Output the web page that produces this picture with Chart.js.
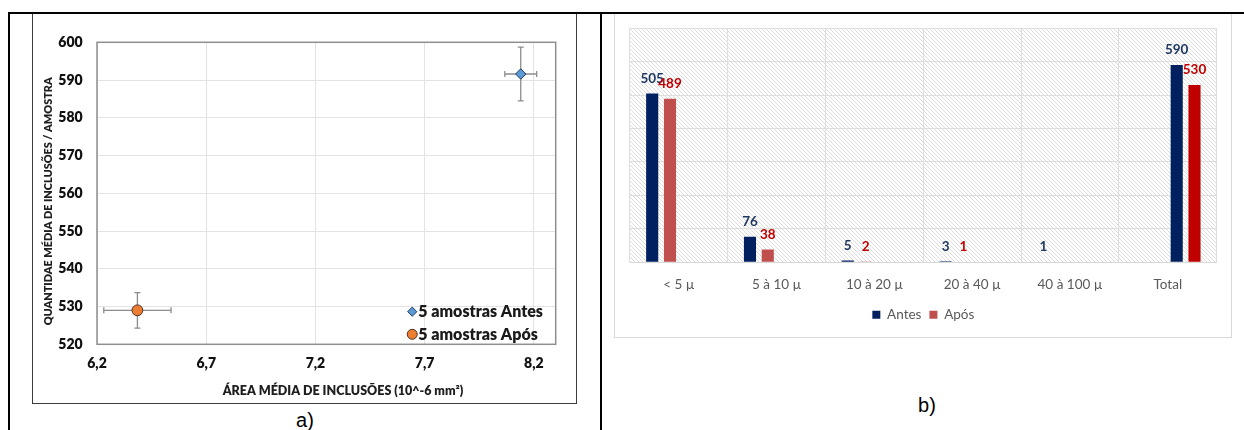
<!DOCTYPE html>
<html>
<head>
<meta charset="utf-8">
<script src="https://cdn.jsdelivr.net/npm/chart.js@4.4.1/dist/chart.umd.min.js"></script>
<style>
  html, body { margin: 0; padding: 0; background: #fff; }
  body { width: 1244px; height: 430px; position: relative; overflow: hidden; font-family: 'Liberation Sans', Arial, sans-serif; }
  .panel { position: absolute; box-sizing: border-box; background: #fff; }
  .panel canvas { display: block; }
  .rule { position: absolute; background: #000; }
  .tag { position: absolute; font-size: 20px; line-height: 1; color: #000; transform: translateX(-50%); }
</style>
</head>
<body>
<div class="panel" style="left:32px;top:13px;width:545px;height:391px;border:1px solid #3c3c3c">
  <canvas id="scatterChart" width="543" height="389" style="width:543px;height:389px"></canvas>
</div>
<div class="panel" style="left:614px;top:13px;width:618px;height:325px;border:1px solid #d9d9d9">
  <canvas id="barChart" width="616" height="323" style="width:616px;height:323px"></canvas>
</div>
<div class="rule" style="left:8px;top:12px;width:1236px;height:2px"></div>
<div class="rule" style="left:8px;top:12px;width:2px;height:418px"></div>
<div class="rule" style="left:600px;top:12px;width:2px;height:418px"></div>
<div class="tag" style="left:305px;top:410px">a)</div>
<div class="tag" style="left:927px;top:395px">b)</div>

<script>
// ---- a) mean inclusion area vs. mean inclusion count per sample ----
const sampleSets = ['5 amostras Antes', '5 amostras Após'];
const meanArea = [8.14, 6.385];        // 10^-6 mm²
const meanCount = [591.6, 529.0];      // inclusions per sample
const areaErr = [0.073, 0.154];
const countErr = [7.1, 4.7];
const areaTicks = [6.2, 6.7, 7.2, 7.7, 8.2];
const countTicks = [520, 530, 540, 550, 560, 570, 580, 590, 600];
const areaTitle = 'ÁREA MÉDIA DE INCLUSÕES (10^-6 mm²)';
const countTitle = 'QUANTIDAE MÉDIA DE INCLUSÕES / AMOSTRA';

// ---- b) inclusion count by size class ----
const sizeClasses = ['< 5 µ', '5 à 10 µ', '10 à 20 µ', '20 à 40 µ', '40 à 100 µ', 'Total'];
const antes = [505, 76, 5, 3, 1, null];
const apos = [489, 38, 2, 1, null, null];
const antesTotal = [null, null, null, null, null, 590];
const aposTotal = [null, null, null, null, null, 530];

Chart.defaults.font.family = "Lato, 'Open Sans', sans-serif";
Chart.defaults.animation = false;

const heavy = '800';
const commaNum = v => Number(v).toFixed(1).replace('.', ',');

// error bars under each scatter marker
const errorBars = {
  id: 'errorBars',
  beforeDatasetsDraw(chart) {
    const {ctx, scales: {x, y}} = chart;
    ctx.save();
    ctx.strokeStyle = '#8c8c8c';
    ctx.lineWidth = 1.3;
    chart.data.datasets.forEach((ds) => {
      const p = ds.data[0];
      const x0 = x.getPixelForValue(p.x - ds.xErr), x1 = x.getPixelForValue(p.x + ds.xErr);
      const y0 = y.getPixelForValue(p.y - ds.yErr), y1 = y.getPixelForValue(p.y + ds.yErr);
      const px = x.getPixelForValue(p.x), py = y.getPixelForValue(p.y);
      const cap = 3;
      ctx.beginPath();
      ctx.moveTo(x0, py); ctx.lineTo(x1, py);
      ctx.moveTo(x0, py - cap); ctx.lineTo(x0, py + cap);
      ctx.moveTo(x1, py - cap); ctx.lineTo(x1, py + cap);
      ctx.moveTo(px, y0); ctx.lineTo(px, y1);
      ctx.moveTo(px - cap, y0); ctx.lineTo(px + cap, y0);
      ctx.moveTo(px - cap, y1); ctx.lineTo(px + cap, y1);
      ctx.stroke();
    });
    ctx.restore();
  }
};

// frame around the plot area
const plotFrame = {
  id: 'plotFrame',
  beforeDatasetsDraw(chart) {
    const {ctx, chartArea: a} = chart;
    ctx.save();
    ctx.strokeStyle = '#8f8f8f';
    ctx.lineWidth = 1.5;
    ctx.strokeRect(a.left, a.top, a.right - a.left, a.bottom - a.top);
    ctx.restore();
  }
};

// axis titles, set slightly off the plot centre as in the source workbook
const axisTitles = {
  id: 'axisTitles',
  afterDraw(chart) {
    const {ctx, chartArea: a} = chart;
    ctx.save();
    ctx.fillStyle = '#1e1e1e';
    ctx.textAlign = 'center';
    ctx.textBaseline = 'middle';
    ctx.font = `${heavy} 12.5px Lato, sans-serif`;
    ctx.fillText(areaTitle, (a.left + a.right) / 2 + 16.6, a.bottom + 46.7);
    ctx.font = `${heavy} 10.9px Lato, sans-serif`;
    ctx.translate(15, (a.top + a.bottom) / 2 + 8);
    ctx.rotate(-Math.PI / 2);
    ctx.fillText(countTitle, 0, 0);
    ctx.restore();
  }
};

// legend drawn inside the lower right corner of the plot
const innerLegend = {
  id: 'innerLegend',
  afterDatasetsDraw(chart) {
    const {ctx, chartArea: a} = chart;
    ctx.save();
    ctx.font = `${heavy} 16px Lato, sans-serif`;
    ctx.textBaseline = 'middle';
    ctx.textAlign = 'left';
    const texts = chart.data.datasets.map(d => d.label);
    const w = Math.max(...texts.map(t => ctx.measureText(t).width));
    const textLeft = a.right - 12.7 - w;
    const rowGap = 22.6;
    chart.data.datasets.forEach((ds, i) => {
      const cy = a.bottom - 10 - (texts.length - 1 - i) * rowGap;
      const cx = textLeft - 6;
      ctx.fillStyle = ds.backgroundColor;
      ctx.strokeStyle = ds.borderColor;
      ctx.lineWidth = 1;
      ctx.beginPath();
      if (ds.pointStyle === 'rectRot') {
        const r = 4.6;
        ctx.moveTo(cx, cy - r); ctx.lineTo(cx + r, cy); ctx.lineTo(cx, cy + r); ctx.lineTo(cx - r, cy); ctx.closePath();
      } else {
        ctx.arc(cx, cy, 5, 0, Math.PI * 2);
      }
      ctx.fill(); ctx.stroke();
      ctx.fillStyle = '#1a1a1a';
      ctx.fillText(ds.label, textLeft, cy + 0.5);
    });
    ctx.restore();
  }
};

new Chart(document.getElementById('scatterChart'), {
  type: 'scatter',
  data: {
    datasets: [
      {
        label: sampleSets[0],
        data: [{x: meanArea[0], y: meanCount[0]}],
        xErr: areaErr[0], yErr: countErr[0],
        pointStyle: 'rectRot', radius: 5.2,
        backgroundColor: '#5B9BD5', borderColor: '#203864', borderWidth: 1
      },
      {
        label: sampleSets[1],
        data: [{x: meanArea[1], y: meanCount[1]}],
        xErr: areaErr[1], yErr: countErr[1],
        pointStyle: 'circle', radius: 5.4,
        backgroundColor: '#ED7D31', borderColor: '#4a3020', borderWidth: 1
      }
    ]
  },
  options: {
    responsive: false,
    layout: {padding: {left: 0, top: 28.3, right: 20.3, bottom: 0}},
    plugins: {legend: {display: false}, tooltip: {enabled: false}},
    scales: {
      x: {
        type: 'linear', min: 6.2, max: 8.3,
        afterBuildTicks: s => { s.ticks = areaTicks.map(v => ({value: v})); },
        afterFit: s => { s.height = 58.7; },
        grid: {color: '#e3e3e3', drawTicks: false},
        border: {display: false},
        ticks: {padding: 11, color: '#111', font: {size: 14, weight: heavy}, callback: v => commaNum(v)}
      },
      y: {
        type: 'linear', min: 520, max: 600,
        afterBuildTicks: s => { s.ticks = countTicks.map(v => ({value: v})); },
        afterFit: s => { s.width = 64; },
        grid: {color: '#e3e3e3', drawTicks: false},
        border: {display: false},
        ticks: {padding: 14.3, color: '#111', font: {size: 14, weight: heavy}}
      }
    }
  },
  plugins: [plotFrame, errorBars, innerLegend, axisTitles]
});

// diagonal hatch used as the plot background of b)
function makeHatch(ctx) {
  const t = document.createElement('canvas');
  t.width = 4; t.height = 4;
  const g = t.getContext('2d');
  g.fillStyle = '#ffffff';
  g.fillRect(0, 0, 4, 4);
  g.fillStyle = '#dcdcdc';
  for (let i = 0; i < 4; i++) g.fillRect(i, i, 1, 1);
  return ctx.createPattern(t, 'repeat');
}

const hatchBackground = {
  id: 'hatchBackground',
  beforeDraw(chart) {
    const {ctx, chartArea: a} = chart;
    ctx.save();
    ctx.fillStyle = makeHatch(ctx);
    ctx.fillRect(a.left, a.top, a.right - a.left, a.bottom - a.top);
    ctx.restore();
  }
};

// value written above every bar
const barValues = {
  id: 'barValues',
  afterDatasetsDraw(chart) {
    const {ctx} = chart;
    ctx.save();
    ctx.font = "bold 13.5px Lato, sans-serif";
    ctx.textAlign = 'center';
    ctx.textBaseline = 'middle';
    chart.data.datasets.forEach((ds, di) => {
      const meta = chart.getDatasetMeta(di);
      ctx.fillStyle = ds.valueColor;
      meta.data.forEach((bar, i) => {
        const v = ds.data[i];
        if (v === null || v === undefined) return;
        ctx.fillText(String(v), bar.x, bar.y - 15);
      });
    });
    ctx.restore();
  }
};

new Chart(document.getElementById('barChart'), {
  type: 'bar',
  data: {
    labels: sizeClasses,
    datasets: [
      {label: 'Antes', data: antes, backgroundColor: '#002060', valueColor: '#1F3864'},
      {label: 'Após', data: apos, backgroundColor: '#C0504D', valueColor: '#C00000'},
      {label: 'Antes (total)', data: antesTotal, backgroundColor: '#002060', valueColor: '#1F3864'},
      {label: 'Após (total)', data: aposTotal, backgroundColor: '#C00000', valueColor: '#C00000'}
    ]
  },
  options: {
    responsive: false,
    categoryPercentage: 0.728,
    barPercentage: 0.68,
    layout: {padding: {left: 15, top: 14.3, right: 14.3, bottom: 5.5}},
    plugins: {
      tooltip: {enabled: false},
      legend: {
        position: 'bottom',
        labels: {
          filter: item => item.datasetIndex < 2,
          boxWidth: 8, boxHeight: 8, padding: 8,
          color: '#595959', font: {size: 13.5}
        }
      }
    },
    scales: {
      x: {
        afterFit: s => { s.height = 37.8; },
        grid: {color: '#dedede', drawTicks: false, offset: true},
        border: {color: '#d9d9d9'},
        ticks: {padding: 14, color: '#595959', font: {size: 13.5}}
      },
      y: {
        min: 0, max: 700,
        afterFit: s => { s.width = 0; },
        ticks: {display: false, stepSize: 100},
        grid: {color: '#dedede', drawTicks: false},
        border: {display: false}
      }
    }
  },
  plugins: [hatchBackground, barValues]
});
</script>
</body>
</html>
